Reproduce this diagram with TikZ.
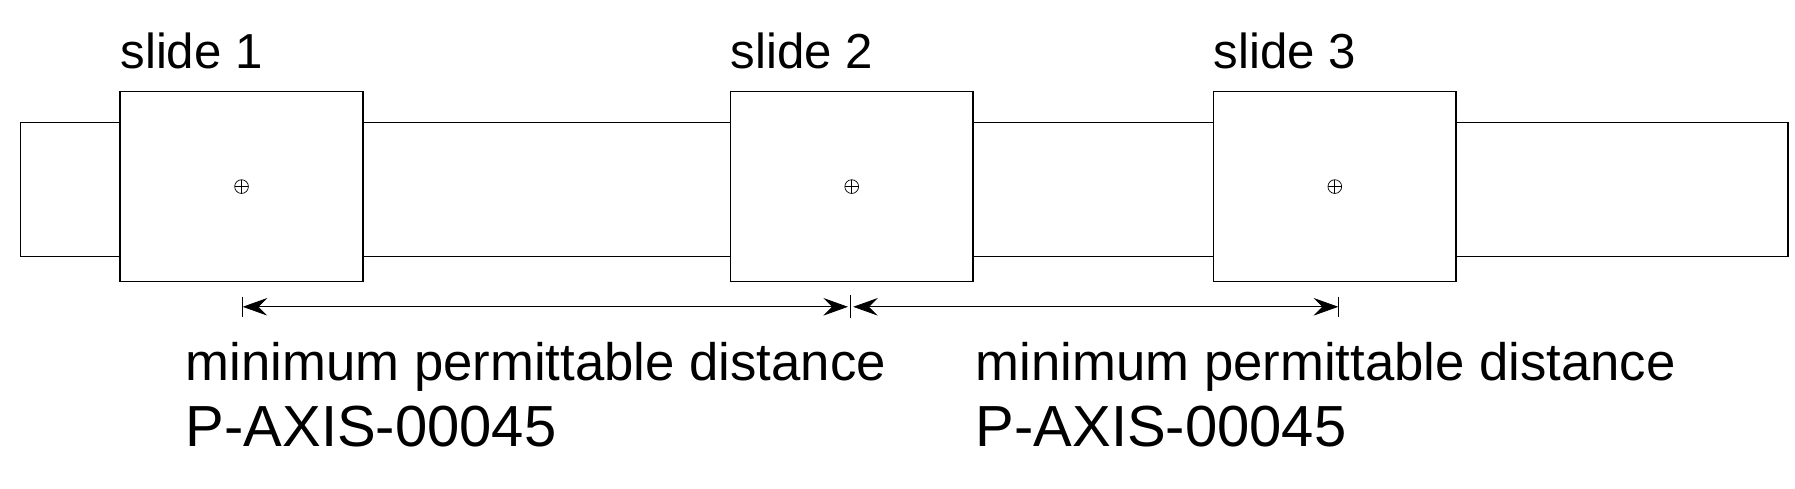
\documentclass[tikz,border=0pt]{standalone}
\usepackage{fontspec}
\setmainfont{Liberation Sans}
\usetikzlibrary{arrows.meta}
\begin{document}
\begin{tikzpicture}[x=0.0229cm,y=-0.0229cm,
         part/.style = {draw,thick,fill=white},
         dim/.style = {{Stealth[length=14pt,width=10pt,inset=5pt]}-{Stealth[length=14pt,width=10pt,inset=5pt]}},
         label/.style = {anchor=base west,inner sep=0pt,font=\fontsize{28}{32}\selectfont},
         big/.style = {anchor=base west,inner sep=0pt,font=\fontsize{30}{34}\selectfont},
         code/.style = {anchor=base west,inner sep=0pt,font=\fontsize{33}{38}\selectfont}
]
      \useasboundingbox (0,0) rectangle (1568,427);

      % rail
      \draw[part] (18,107) rectangle (1562,224);

      % slides
      \foreach \n/\x in {1/105,2/638,3/1060}{
         \draw[part] (\x,80) rectangle ++(212,166);
         \coordinate (c\n) at (\x+106,163);
         \draw (c\n) circle (6);
         \draw (c\n) ++(-6,0) -- ++(12,0);
         \draw (c\n) ++(0,-6) -- ++(0,12);
         \node[label] (s\n) at (\x,60) {slide \n};
      }

      % extension ticks
      \coordinate (d1) at (212,268);
      \coordinate (d2) at (743,268);
      \coordinate (d3) at (1169,268);
      \draw (d1) ++(0,-9) -- ++(0,18);
      \draw (d2) ++(0,-10) -- ++(0,20);
      \draw (d3) ++(0,-9) -- ++(0,18);

      % dimensions
      \draw[dim] (d1) -- ([xshift=-1.5]d2);
      \draw[dim] ([xshift=1.5]d2) -- (d3);

      \node[big] (t1) at (162,332) {minimum permittable distance};
      \node[code] (p1) at (162,390) {P-AXIS-00045};
      \node[big] (t2) at (852,332) {minimum permittable distance};
      \node[code] (p2) at (852,390) {P-AXIS-00045};
\end{tikzpicture}
\end{document}
